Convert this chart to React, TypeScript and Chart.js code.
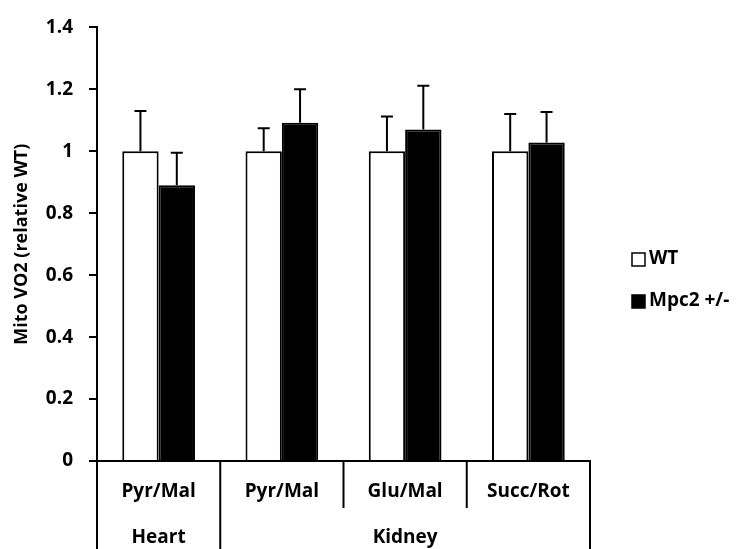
import React, { useEffect, useRef } from "react";
import { Chart, registerables } from "chart.js";

Chart.register(...registerables);

const categories = ["Pyr/Mal", "Pyr/Mal", "Glu/Mal", "Succ/Rot"];
const groups = [
  { label: "Heart", span: 1 },
  { label: "Kidney", span: 3 },
];
const wtValues = [1, 1, 1, 1];
const wtErrors = [0.13, 0.074, 0.112, 0.12];
const mpcValues = [0.89, 1.092, 1.07, 1.028];
const mpcErrors = [0.105, 0.108, 0.142, 0.099];
const seriesNames = ["WT", "Mpc2 +/-"];
const yTicks = [0, 0.2, 0.4, 0.6, 0.8, 1, 1.2, 1.4];

const FONT = "'Open Sans', sans-serif";
const FS = 19;

const errorBarPlugin = {
  id: "errorBars",
  afterDatasetsDraw(chart: any) {
    const ctx = chart.ctx;
    const y = chart.scales.y;
    const errs = [wtErrors, mpcErrors];
    ctx.save();
    ctx.strokeStyle = "#000";
    ctx.lineWidth = 2;
    chart.data.datasets.forEach((ds: any, di: number) => {
      const meta = chart.getDatasetMeta(di);
      meta.data.forEach((bar: any, i: number) => {
        const v = ds.data[i];
        const top = y.getPixelForValue(v + errs[di][i]);
        const base = y.getPixelForValue(v);
        ctx.beginPath();
        ctx.moveTo(bar.x, base);
        ctx.lineTo(bar.x, top);
        ctx.moveTo(bar.x - 6, top);
        ctx.lineTo(bar.x + 6, top);
        ctx.stroke();
      });
    });
    ctx.restore();
  },
};

const axisLabelPlugin = {
  id: "multiLevelAxis",
  afterDraw(chart: any) {
    const ctx = chart.ctx;
    const area = chart.chartArea;
    const n = categories.length;
    const w = (area.right - area.left) / n;
    const bottom = chart.height;
    ctx.save();
    ctx.strokeStyle = "#000";
    ctx.lineWidth = 2;
    ctx.fillStyle = "#000";
    ctx.font = `bold ${FS}px ${FONT}`;
    ctx.textAlign = "center";
    ctx.textBaseline = "middle";
    categories.forEach((c, i) => {
      ctx.fillText(c, area.left + w * (i + 0.5), area.bottom + 31);
    });
    const groupEdges = new Set<number>([0]);
    let acc = 0;
    groups.forEach((g) => {
      acc += g.span;
      groupEdges.add(acc);
    });
    for (let i = 0; i <= n; i++) {
      const x = area.left + w * i;
      const end = groupEdges.has(i) ? bottom : area.bottom + 47;
      ctx.beginPath();
      ctx.moveTo(x, area.bottom);
      ctx.lineTo(x, end);
      ctx.stroke();
    }
    let start = 0;
    groups.forEach((g) => {
      const cx = area.left + w * (start + g.span / 2);
      ctx.fillText(g.label, cx, area.bottom + 77);
      start += g.span;
    });
    const lx = area.right + 42;
    const items = [
      { name: seriesNames[0], fill: "#fff", y: 259 },
      { name: seriesNames[1], fill: "#000", y: 301 },
    ];
    ctx.textAlign = "left";
    items.forEach((it) => {
      ctx.fillStyle = it.fill;
      ctx.fillRect(lx, it.y - 6, 13, 13);
      ctx.lineWidth = 1.5;
      ctx.strokeRect(lx, it.y - 6, 13, 13);
      ctx.fillStyle = "#000";
      ctx.fillText(it.name, lx + 17, it.y);
    });
    ctx.restore();
  },
};

export default function App() {
  const ref = useRef<HTMLCanvasElement>(null);
  useEffect(() => {
    if (!ref.current) return;
    const chart = new Chart(ref.current, {
      type: "bar",
      data: {
        labels: categories,
        datasets: [
          {
            label: seriesNames[0],
            data: wtValues,
            backgroundColor: "#fff",
            borderColor: "#000",
            borderWidth: 2,
            categoryPercentage: 0.59,
            barPercentage: 1,
          },
          {
            label: seriesNames[1],
            data: mpcValues,
            backgroundColor: "#000",
            borderColor: "#000",
            borderWidth: 2,
            categoryPercentage: 0.59,
            barPercentage: 1,
          },
        ],
      },
      options: {
        animation: false,
        responsive: true,
        maintainAspectRatio: false,
        layout: { padding: { top: 20, right: 152, bottom: 88, left: 0 } },
        plugins: {
          legend: { display: false },
          tooltip: { enabled: false },
        },
        scales: {
          x: {
            ticks: { display: false },
            grid: { display: false },
            border: { display: true, color: "#000", width: 2 },
            afterFit: (s: any) => {
              s.height = 0;
            },
          },
          y: {
            min: 0,
            max: 1.4,
            afterBuildTicks: (s: any) => {
              s.ticks = yTicks.map((v) => ({ value: v }));
            },
            ticks: {
              color: "#000",
              padding: 16,
              font: { family: FONT, size: FS, weight: "bold" },
              callback: (v: any) => String(Math.round(Number(v) * 10) / 10),
            },
            grid: {
              display: true,
              drawOnChartArea: false,
              drawTicks: true,
              tickLength: 8,
              color: "#000",
              lineWidth: 2,
            },
            border: { display: true, color: "#000", width: 2 },
            title: {
              display: true,
              text: "Mito VO2 (relative WT)",
              color: "#000",
              font: { family: FONT, size: 18, weight: "bold" },
              padding: { top: 11, bottom: 0 },
            },
            afterFit: (s: any) => {
              s.width = 97;
            },
          },
        },
      },
      plugins: [errorBarPlugin, axisLabelPlugin],
    });
    return () => chart.destroy();
  }, []);
  return (
    <div style={{ position: "fixed", left: 0, top: 0, width: 742, height: 549, background: "#fff" }}>
      <canvas ref={ref} />
    </div>
  );
}
